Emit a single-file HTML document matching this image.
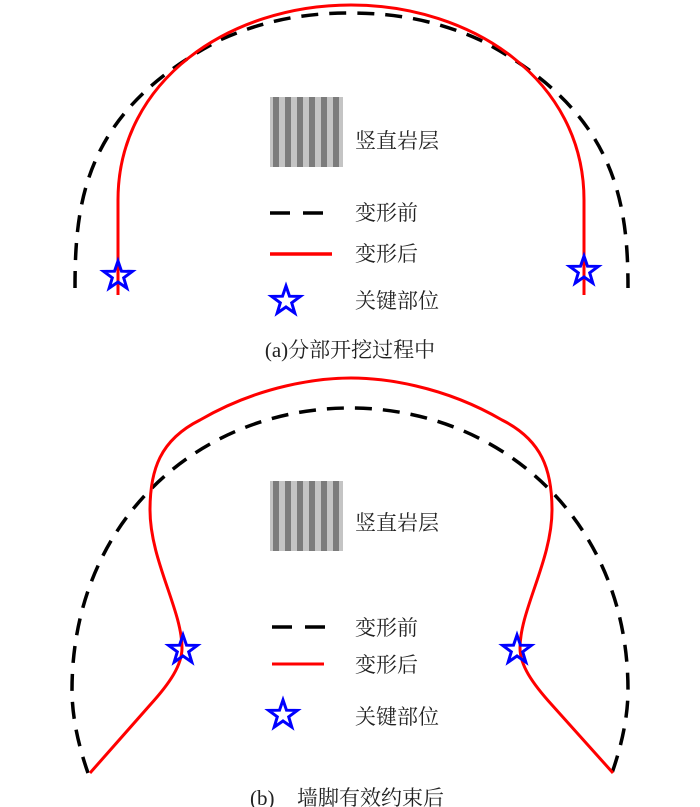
<!DOCTYPE html>
<html><head><meta charset="utf-8"><style>
html,body{margin:0;padding:0;background:#fff;}
svg{display:block;}
text{font-family:"Liberation Serif","Noto Serif CJK SC","Noto Sans CJK SC",serif;fill:#222;}
</style></head><body>
<svg width="700" height="807" viewBox="0 0 700 807" xmlns="http://www.w3.org/2000/svg">
<defs>
<pattern id="st" x="270" y="0" width="12" height="10" patternUnits="userSpaceOnUse">
<rect x="0" y="0" width="12" height="10" fill="#c4c4c4"/>
<rect x="3" y="0" width="6" height="10" fill="#7c7c7c"/>
</pattern>
<polygon id="star" points="0,-15 3.5,-4.8 14.3,-4.6 5.7,1.8 8.8,12.1 0,6 -8.8,12.1 -5.7,1.8 -14.3,-4.6 -3.5,-4.8" fill="none" stroke="#0000ff" stroke-width="3"/>
</defs>
<!-- TOP -->
<path d="M75,288 C75,200 85,110 220,40 C260,22 300,13 350,13 C400,13 440,22 480,40 C615,110 628,200 628,288" fill="none" stroke="#000" stroke-width="3.5" stroke-dasharray="17,11"/>
<path d="M118,295 L118,200 C118,80 230,5 351,5 C472,5 584,80 584,200 L584,295" fill="none" stroke="#ff0000" stroke-width="3"/>
<use href="#star" x="118" y="276"/>
<use href="#star" x="584" y="271"/>
<rect x="270" y="97" width="73" height="70" fill="url(#st)"/>
<text x="355" y="148" font-size="21">竖直岩层</text>
<line x1="270" y1="213" x2="333" y2="213" stroke="#000" stroke-width="3.5" stroke-dasharray="20,13"/>
<text x="355" y="220" font-size="21">变形前</text>
<line x1="270" y1="254" x2="332" y2="254" stroke="#ff0000" stroke-width="3.5"/>
<text x="355" y="261" font-size="21">变形后</text>
<use href="#star" x="286" y="301"/>
<text x="355" y="308" font-size="21">关键部位</text>
<text x="350" y="357" font-size="21" text-anchor="middle">(a)分部开挖过程中</text>
<!-- BOTTOM -->
<path d="M88,773 C80,750 72,720 72,690 C72,520 200,408 350,408 C500,408 628,520 628,690 C628,720 620,750 612,773" fill="none" stroke="#000" stroke-width="3.5" stroke-dasharray="17,11"/>
<path d="M90,773 L150,705 C170,683 182,665 182,648 C182,610 150,560 150,510 C150,470 160,440 200,420 C260,385 320,378 351,378 C382,378 442,385 502,420 C542,440 552,470 552,510 C552,560 520,610 520,648 C520,665 532,683 552,705 L613,773" fill="none" stroke="#ff0000" stroke-width="3"/>
<use href="#star" x="183" y="650"/>
<use href="#star" x="517" y="650"/>
<rect x="270" y="481" width="73" height="70" fill="url(#st)"/>
<text x="355" y="530" font-size="21">竖直岩层</text>
<line x1="272" y1="627" x2="333" y2="627" stroke="#000" stroke-width="3.5" stroke-dasharray="20,13"/>
<text x="355" y="635" font-size="21">变形前</text>
<line x1="272" y1="664" x2="324" y2="664" stroke="#ff0000" stroke-width="3"/>
<text x="355" y="672" font-size="21">变形后</text>
<use href="#star" x="283" y="715"/>
<text x="355" y="724" font-size="21">关键部位</text>
<text x="250" y="805" font-size="21">(b)</text>
<text x="297" y="805" font-size="21">墙脚有效约束后</text>
</svg>
</body></html>
